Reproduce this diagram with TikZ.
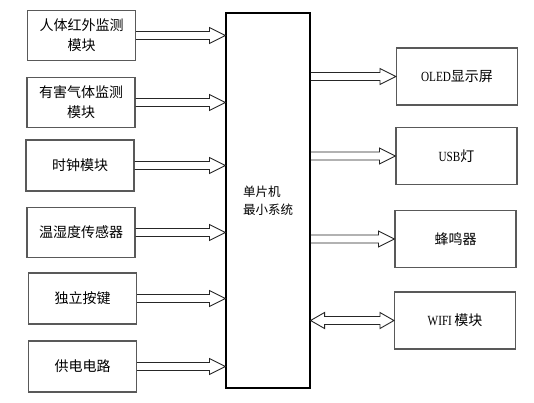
\documentclass[tikz,border=0pt]{standalone}
\usepackage{fontspec}
\setmainfont{Liberation Serif}
\newfontfamily\cjk{Noto Sans CJK SC}
\newfontfamily\nar[FakeStretch=0.8]{Liberation Serif}
\usetikzlibrary{calc}
\tikzset{
  lbox/.style={draw=black!65, line width=1.1pt, minimum width=108pt, minimum height=50pt, inner sep=0pt, align=center, font=\cjk\fontsize{14}{20}\selectfont},
  rbox/.style={draw=black!65, line width=1.1pt, minimum width=121pt, minimum height=57pt, inner sep=0pt, align=center, font=\cjk\fontsize{14}{20}\selectfont},
  mcubox/.style={draw=black, line width=1.1pt, minimum width=84pt, minimum height=375pt, inner sep=0pt, align=left, font=\cjk\fontsize{12.5}{18}\selectfont},
  fat/.style={draw=black!85, line width=0.9pt, line join=miter}
}
\newcommand\rarr[2]{%
  \draw[fat] let \p1=(#1), \p2=(#2) in
    (\x1,\y1+4pt) -- (\x2-16pt,\y1+4pt) -- (\x2-16pt,\y1+8pt) -- (\x2,\y1)
    -- (\x2-16pt,\y1-8pt) -- (\x2-16pt,\y1-4pt) -- (\x1,\y1-4pt);}
\newcommand\darr[2]{%
  \draw[fat] let \p1=(#1), \p2=(#2) in
    (\x1,\y1) -- (\x1+14pt,\y1+8pt) -- (\x1+14pt,\y1+4pt) -- (\x2-14pt,\y1+4pt)
    -- (\x2-14pt,\y1+8pt) -- (\x2,\y1) -- (\x2-14pt,\y1-8pt) -- (\x2-14pt,\y1-4pt)
    -- (\x1+14pt,\y1-4pt) -- (\x1+14pt,\y1-8pt) -- cycle;}
\begin{document}
\begin{tikzpicture}[x=1pt,y=-1pt]
\useasboundingbox[fill=white] (0,0) rectangle (534,402);
\node[mcubox] (mcu) at (268,200.5) {单片机\\最小系统};
\node[lbox] (l1) at (81.5,35.5) {人体红外监测\\模块};
\node[lbox] (l2) at (81,102.5) {有害气体监测\\模块};
\node[lbox, minimum height=51pt] (l3) at (80,165.5) {时钟模块};
\node[lbox] (l4) at (81,232.5) {温湿度传感器};
\node[lbox, minimum height=51pt] (l5) at (82.5,298.5) {独立按键};
\node[lbox, minimum height=51pt] (l6) at (82.5,366.5) {供电电路};
\node[rbox] (r1) at (457,76.5) {{\nar OLED}显示屏};
\node[rbox] (r2) at (456.5,156) {{\nar USB}灯};
\node[rbox] (r3) at (455.5,239) {蜂鸣器};
\node[rbox] (r4) at (455,320.5) {{\nar WIFI}\,模块};
\rarr{l1.east}{mcu.west |- l1.east}
\rarr{l2.east}{mcu.west |- l2.east}
\rarr{l3.east}{mcu.west |- l3.east}
\rarr{l4.east}{mcu.west |- l4.east}
\rarr{l5.east}{mcu.west |- l5.east}
\rarr{l6.east}{mcu.west |- l6.east}
\rarr{mcu.east |- r1.west}{r1.west}
\rarr{mcu.east |- r2.west}{r2.west}
\rarr{mcu.east |- r3.west}{r3.west}
\darr{mcu.east |- r4.west}{r4.west}
\end{tikzpicture}
\end{document}
